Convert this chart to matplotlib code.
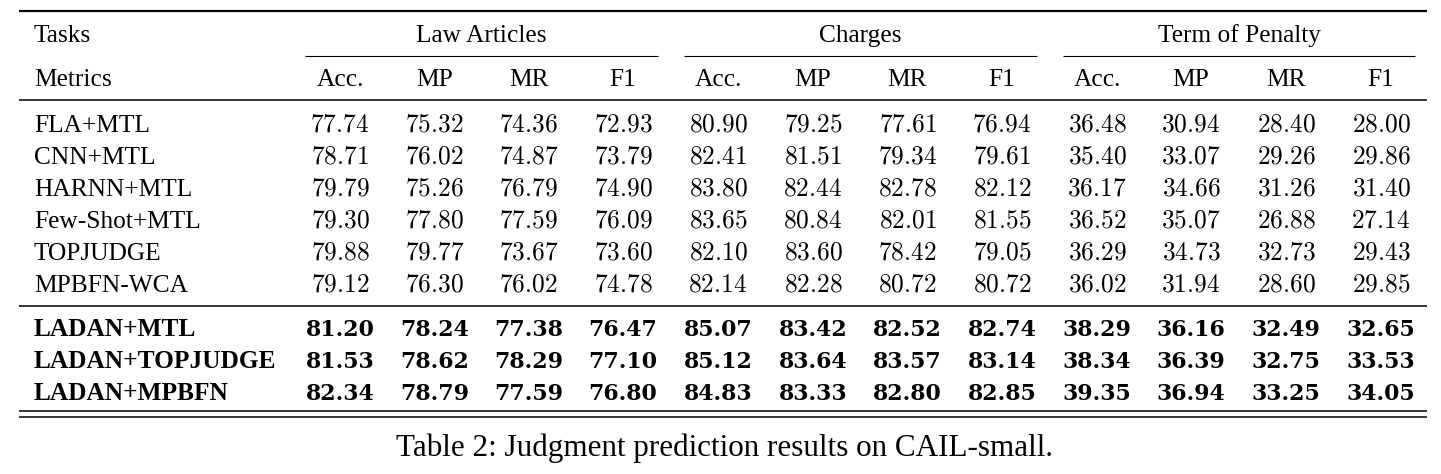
import matplotlib.pyplot as plt

# Заголовки таблицы
groups = ["Law Articles", "Charges", "Term of Penalty"]
metrics = ["Acc.", "MP", "MR", "F1"]

# Базовые модели
base_models = ["FLA+MTL", "CNN+MTL", "HARNN+MTL", "Few-Shot+MTL", "TOPJUDGE", "MPBFN-WCA"]
base_values = [
    ["77.74", "75.32", "74.36", "72.93", "80.90", "79.25", "77.61", "76.94", "36.48", "30.94", "28.40", "28.00"],
    ["78.71", "76.02", "74.87", "73.79", "82.41", "81.51", "79.34", "79.61", "35.40", "33.07", "29.26", "29.86"],
    ["79.79", "75.26", "76.79", "74.90", "83.80", "82.44", "82.78", "82.12", "36.17", "34.66", "31.26", "31.40"],
    ["79.30", "77.80", "77.59", "76.09", "83.65", "80.84", "82.01", "81.55", "36.52", "35.07", "26.88", "27.14"],
    ["79.88", "79.77", "73.67", "73.60", "82.10", "83.60", "78.42", "79.05", "36.29", "34.73", "32.73", "29.43"],
    ["79.12", "76.30", "76.02", "74.78", "82.14", "82.28", "80.72", "80.72", "36.02", "31.94", "28.60", "29.85"],
]

# Модели LADAN (жирным)
ladan_models = ["LADAN+MTL", "LADAN+TOPJUDGE", "LADAN+MPBFN"]
ladan_values = [
    ["81.20", "78.24", "77.38", "76.47", "85.07", "83.42", "82.52", "82.74", "38.29", "36.16", "32.49", "32.65"],
    ["81.53", "78.62", "78.29", "77.10", "85.12", "83.64", "83.57", "83.14", "38.34", "36.39", "32.75", "33.53"],
    ["82.34", "78.79", "77.59", "76.80", "84.83", "83.33", "82.80", "82.85", "39.35", "36.94", "33.25", "34.05"],
]

caption = "Table 2: Judgment prediction results on CAIL-small."

plt.rcParams['mathtext.fontset'] = 'cm'

W, H = 1441, 474
fig = plt.figure(figsize=(W / 100, H / 100), dpi=100)
ax = fig.add_axes([0, 0, 1, 1])
ax.set_xlim(0, W)
ax.set_ylim(H, 0)
ax.axis('off')

serif = ['Liberation Serif', 'DejaVu Serif']
fs = 18.3
x_left, x_right = 19, 1427
label_x = 34

col_x = [340, 434.5, 528.5, 623, 718, 813, 907.5, 1002, 1097, 1191, 1286, 1381]
group_spans = [(305, 658), (684, 1037), (1063, 1415)]

# Линейки
ax.hlines(11, x_left, x_right, color='black', lw=1.6)
ax.hlines(100, x_left, x_right, color='black', lw=1.1)
ax.hlines(305.5, x_left, x_right, color='black', lw=1.1)
ax.hlines([411, 417], x_left, x_right, color='black', lw=1.1)
for (a, b) in group_spans:
    ax.hlines(55.5, a, b, color='black', lw=0.8)

# Шапка
ax.text(label_x, 42, "Tasks", fontsize=fs, family=serif, va='baseline', ha='left')
ax.text(label_x, 85.5, "Metrics", fontsize=fs, family=serif, va='baseline', ha='left')
for g, (a, b) in zip(groups, group_spans):
    ax.text((a + b) / 2, 42, g, fontsize=fs, family=serif, va='baseline', ha='center')
for i, x in enumerate(col_x):
    ax.text(x, 85.5, metrics[i % 4], fontsize=fs, family=serif, va='baseline', ha='center')

# Строки базовых моделей
y0, dy = 132, 31.9
for r, (name, vals) in enumerate(zip(base_models, base_values)):
    y = y0 + r * dy
    ax.text(label_x, y, name, fontsize=fs, family=serif, va='baseline', ha='left')
    for x, v in zip(col_x, vals):
        ax.text(x, y, f"${v}$", fontsize=fs, va='baseline', ha='center')

# Строки LADAN
y1 = 336
for r, (name, vals) in enumerate(zip(ladan_models, ladan_values)):
    y = y1 + r * dy
    ax.text(label_x, y, name, fontsize=fs, family=serif, fontweight='bold', va='baseline', ha='left')
    for x, v in zip(col_x, vals):
        ax.text(x, y, v, fontsize=15.8, family=['DejaVu Serif'], fontweight='bold',
                va='baseline', ha='center')

ax.text(W / 2 + 4, 456, caption, fontsize=22.4, family=serif, va='baseline', ha='center')

plt.savefig('out.png', dpi=100)
